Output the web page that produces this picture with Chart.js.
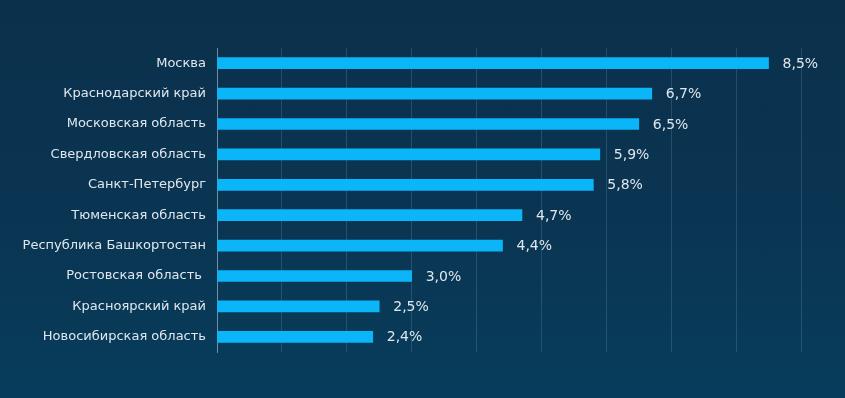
<!DOCTYPE html>
<html>
<head>
<meta charset="utf-8">
<script src="https://cdn.jsdelivr.net/npm/chart.js"></script>
<style>
  html,body{ margin:0; padding:0; }
  body{ width:845px; height:398px; overflow:hidden;
    background:linear-gradient(180deg,#0b304b 0%,#0a3552 55%,#073d5c 100%); }
  .wrap{ position:relative; width:845px; height:398px; }
</style>
</head>
<body>
<div class="wrap"><canvas id="chart" width="845" height="398"></canvas></div>
<script>
// data
const regions = [
  'Москва',
  'Краснодарский край',
  'Московская область',
  'Свердловская область',
  'Санкт-Петербург',
  'Тюменская область',
  'Республика Башкортостан',
  'Ростовская область ',
  'Красноярский край',
  'Новосибирская область'
];
const shares = [8.5, 6.7, 6.5, 5.9, 5.8, 4.7, 4.4, 3.0, 2.5, 2.4];
const valueLabels = ['8,5%', '6,7%', '6,5%', '5,9%', '5,8%', '4,7%', '4,4%', '3,0%', '2,5%', '2,4%'];

const FONT = '"DejaVu Sans", sans-serif';
const TEXT = '#dfe7ee';

// labels at bar ends
const endLabels = {
  id: 'endLabels',
  afterDatasetsDraw(chart){
    const ctx = chart.ctx;
    const meta = chart.getDatasetMeta(0);
    ctx.save();
    ctx.font = '14px ' + FONT;
    ctx.fillStyle = TEXT;
    ctx.textAlign = 'left';
    ctx.textBaseline = 'middle';
    meta.data.forEach((bar, i)=>{
      ctx.fillText(valueLabels[i], bar.x + 14, bar.y + 1);
    });
    ctx.restore();
  }
};

new Chart(document.getElementById('chart'), {
  type: 'bar',
  data: {
    labels: regions,
    datasets: [{
      data: shares,
      backgroundColor: '#0ab5f8',
      borderWidth: 0,
      barThickness: 11
    }]
  },
  options: {
    indexAxis: 'y',
    responsive: false,
    animation: false,
    layout: { padding: { left: 0, right: 44, top: 48, bottom: 46 } },
    plugins: { legend: { display: false }, tooltip: { enabled: false } },
    scales: {
      x: {
        min: 0, max: 9,
        ticks: { display: false, stepSize: 1 },
        grid: { color: 'rgba(120,160,190,0.25)', lineWidth: 1, drawTicks: false },
        border: { display: false }
      },
      y: {
        afterFit: (s)=>{ s.width = 217; },
        ticks: { color: TEXT, font: { family: FONT, size: 13 }, padding: 11 },
        grid: { display: false, drawTicks: false },
        border: { display: true, color: 'rgba(170,195,215,0.55)', width: 1 }
      }
    }
  },
  plugins: [endLabels]
});
</script>
</body>
</html>
